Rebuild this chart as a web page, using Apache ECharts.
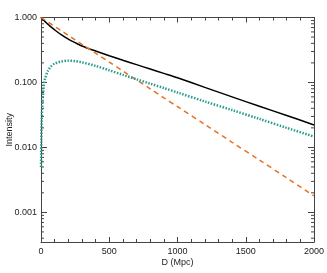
<!DOCTYPE html>
<html><head><meta charset="utf-8">
<script src="https://cdn.jsdelivr.net/npm/echarts@6/dist/echarts.min.js"></script>
<style>html,body{margin:0;padding:0;background:#fff}#c{width:327px;height:273px}</style>
</head><body><div id="c"></div>
<script>
var distances = [0, 2, 5, 10, 20, 30, 50, 75, 100, 150, 200, 250, 300, 400, 500, 600, 700, 800, 900, 1000, 1200, 1400, 1600, 1800, 2000];
var solidValues = [1.0, 0.99, 0.975, 0.95, 0.905, 0.865, 0.79, 0.71, 0.645, 0.54, 0.465, 0.41, 0.365, 0.305, 0.258, 0.22, 0.188, 0.161, 0.138, 0.118, 0.084, 0.060, 0.043, 0.031, 0.0222];
var dashedValues = [1.0, 0.994, 0.984, 0.969, 0.939, 0.910, 0.854, 0.789, 0.729, 0.622, 0.531, 0.454, 0.387, 0.282, 0.206, 0.150, 0.109, 0.080, 0.058, 0.0424, 0.0226, 0.0120, 0.0064, 0.0034, 0.00179];
var dottedValues = [0.005, 0.012, 0.025, 0.047, 0.088, 0.115, 0.15, 0.178, 0.195, 0.21, 0.216, 0.213, 0.204, 0.18, 0.154, 0.131, 0.112, 0.096, 0.082, 0.070, 0.051, 0.0376, 0.0275, 0.020, 0.0147];
var yMajorLabels = ['0.001', '0.010', '0.100', '1.000'];
var xTitle = 'D (Mpc)';
var yTitle = 'Intensity';

var yMin = 0.00035, yMax = 1.0;
function pairs(vals){ return distances.map(function(d,i){ return [d, vals[i]]; }); }
var axisColor = '#444';
var font = 'Liberation Sans, Arial, sans-serif';
var chart = echarts.init(document.getElementById('c'), null, {renderer:'canvas'});
var yLab = function(v){
  var e = Math.round(Math.log10(v));
  if (Math.abs(Math.log10(v) - e) > 1e-6) return '';
  var idx = e + 3;
  return (idx >= 0 && idx < yMajorLabels.length) ? yMajorLabels[idx] : '';
};
var opt = {
  animation: false,
  grid: {left: 41, right: 13, top: 17.5, bottom: 31, containLabel: false, outerBoundsMode: 'none'},
  xAxis: [{
    type: 'value', min: 0, max: 2000, interval: 500, position: 'bottom',
    name: xTitle, nameLocation: 'middle', nameGap: 16, nameMoveOverlap: false,
    nameTextStyle: {fontFamily: font, fontSize: 9, color: '#222'},
    axisLine: {show: true, onZero: false, lineStyle: {color: axisColor, width: 1}},
    axisTick: {show: true, inside: true, length: 5, lineStyle: {color: axisColor}},
    minorTick: {show: true, splitNumber: 5, length: 3, lineStyle: {color: axisColor}},
    axisLabel: {fontFamily: font, fontSize: 9, color: '#222', margin: 5, formatter: function(v){ return String(v); }},
    splitLine: {show: false}
  }, {
    type: 'value', min: 0, max: 2000, interval: 500, position: 'top',
    axisLine: {show: true, onZero: false, lineStyle: {color: axisColor, width: 1}},
    axisTick: {show: true, inside: true, length: 5, lineStyle: {color: axisColor}},
    minorTick: {show: true, splitNumber: 5, length: 3, lineStyle: {color: axisColor}},
    axisLabel: {show: false}, splitLine: {show: false}
  }],
  yAxis: [{
    type: 'log', logBase: 10, min: yMin, max: yMax, splitNumber: 3, position: 'left',
    name: yTitle, nameLocation: 'middle', nameGap: 27, nameMoveOverlap: false,
    nameTextStyle: {fontFamily: font, fontSize: 9, color: '#222'},
    axisLine: {show: true, onZero: false, lineStyle: {color: axisColor, width: 1}},
    axisTick: {show: true, inside: true, length: 6, lineStyle: {color: axisColor}},
    axisLabel: {fontFamily: font, fontSize: 9, color: '#222', margin: 4, formatter: yLab, showMinLabel: false},
    splitLine: {show: false}
  }, {
    type: 'log', logBase: 10, min: yMin, max: yMax, splitNumber: 3, position: 'right',
    axisLine: {show: true, onZero: false, lineStyle: {color: axisColor, width: 1}},
    axisTick: {show: true, inside: true, length: 6, lineStyle: {color: axisColor}},
    axisLabel: {show: false}, splitLine: {show: false}
  }],
  series: [{
    type: 'line', data: pairs(solidValues), showSymbol: false, symbol: 'none', smooth: 0.3,
    lineStyle: {color: '#000', width: 1.5}
  }, {
    type: 'line', data: pairs(dashedValues), showSymbol: false, symbol: 'none', smooth: 0.3,
    lineStyle: {color: '#e8701f', width: 1.5, type: [5, 4]}
  }, {
    type: 'line', data: pairs(dottedValues), showSymbol: false, symbol: 'none', smooth: 0.3,
    lineStyle: {color: '#2a9d8f', width: 2.5, type: [1.5, 1.5]}
  }]
};
chart.setOption(opt);
var g = [];
var left = chart.convertToPixel({xAxisIndex: 0}, 0);
var right = chart.convertToPixel({xAxisIndex: 0}, 2000);
for (var e = -4; e <= -1; e++) {
  for (var k = 2; k <= 9; k++) {
    var v = k * Math.pow(10, e);
    if (v <= yMin || v >= yMax) continue;
    var py = chart.convertToPixel({yAxisIndex: 0}, v);
    g.push({type: 'line', shape: {x1: left, y1: py, x2: left + 3, y2: py}, style: {stroke: axisColor, lineWidth: 1}, silent: true});
    g.push({type: 'line', shape: {x1: right - 3, y1: py, x2: right, y2: py}, style: {stroke: axisColor, lineWidth: 1}, silent: true});
  }
}
chart.setOption({graphic: g});
</script></body></html>
